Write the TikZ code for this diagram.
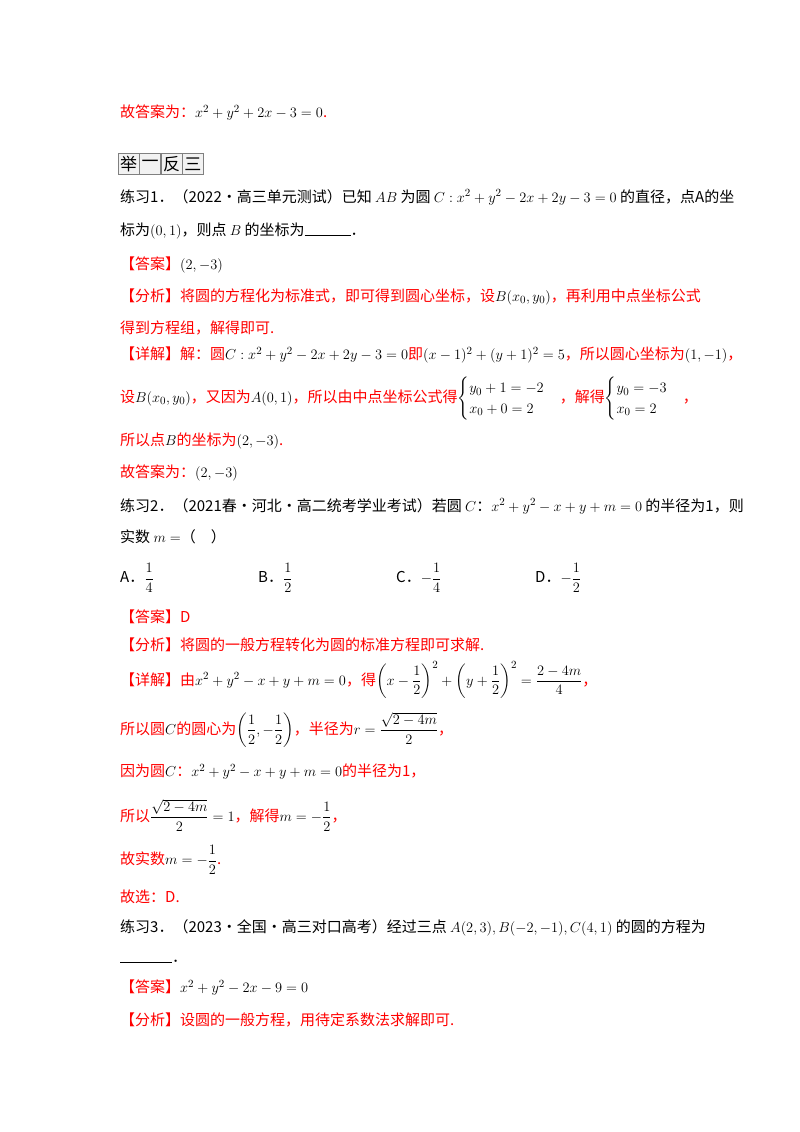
\documentclass[tikz,border=0pt]{standalone}
\usepackage{amsmath}
\usepackage{fontspec}
\setmainfont{Noto Sans CJK SC}
\definecolor{rd}{rgb}{1,0,0}
\begin{document}
\begin{tikzpicture}[x=1pt,y=-1pt,
  t/.style={anchor=west,inner sep=0pt,font=\fontsize{15}{17}\selectfont},
  r/.style={t,text=rd},
  ch/.style={draw=gray,fill=gray!10,minimum width=21pt,minimum height=21pt,inner sep=0pt,font=\fontsize{17}{18}\selectfont,anchor=west}]
\useasboundingbox[fill=white] (0,0) rectangle (800,1132);
\node[r] (l1) at (120,113) {故答案为：\textcolor{black}{$x^2+y^2+2x-3=0$}.};
\node[ch] (b1) at (118,164) {举};
\node[ch] (b2) at (b1.east) {一};
\node[ch] (b3) at (b2.east) {反};
\node[ch] (b4) at (b3.east) {三};
\node[t] (l2) at (120,197) {练习1．（2022·高三单元测试）已知 $AB$ 为圆 $C:x^2+y^2-2x+2y-3=0$ 的直径，点A的坐};
\node[t] (l3) at (120,231) {标为$(0,1)$，则点 $B$ 的坐标为\rule{46pt}{0.5pt}．};
\node[r] (l4) at (120,265) {【答案】\textcolor{black}{$(2,-3)$}};
\node[r] (l5) at (120,297) {【分析】将圆的方程化为标准式，即可得到圆心坐标，设\textcolor{black}{$B(x_0,y_0)$}，再利用中点坐标公式};
\node[r] (l6) at (120,328) {得到方程组，解得即可.};
\node[r] (l7) at (120,355) {【详解】解：圆\textcolor{black}{$C:x^2+y^2-2x+2y-3=0$}即\textcolor{black}{$(x-1)^2+(y+1)^2=5$}，所以圆心坐标为\textcolor{black}{$(1,-1)$}，};
\node[r] (l8) at (120,399) {设\textcolor{black}{$B(x_0,y_0)$}，又因为\textcolor{black}{$A(0,1)$}，所以由中点坐标公式得\textcolor{black}{$\begin{cases}y_0+1=-2\\x_0+0=2\end{cases}$}，解得\textcolor{black}{$\begin{cases}y_0=-3\\x_0=2\end{cases}$}，};
\node[r] (l9) at (120,441) {所以点\textcolor{black}{$B$}的坐标为\textcolor{black}{$(2,-3)$}.};
\node[r] (l10) at (120,473) {故答案为：\textcolor{black}{$(2,-3)$}};
\node[t] (l11) at (120,506) {练习2．（2021春·河北·高二统考学业考试）若圆 $C$：$x^2+y^2-x+y+m=0$ 的半径为1，则};
\node[t] (l12) at (120,537) {实数 $m=$（\quad）};
\node[t] (oa) at (120,578) {A．$\dfrac{1}{4}$};
\node[t] (ob) at (258,578) {B．$\dfrac{1}{2}$};
\node[t] (oc) at (396,578) {C．$-\dfrac{1}{4}$};
\node[t] (od) at (535,578) {D．$-\dfrac{1}{2}$};
\node[r] (l13) at (120,617) {【答案】D};
\node[r] (l14) at (120,645) {【分析】将圆的一般方程转化为圆的标准方程即可求解.};
\node[r] (l15) at (120,680) {【详解】由\textcolor{black}{$x^2+y^2-x+y+m=0$}，得\textcolor{black}{$\left(x-\dfrac{1}{2}\right)^2+\left(y+\dfrac{1}{2}\right)^2=\dfrac{2-4m}{4}$}，};
\node[r] (l16) at (120,730) {所以圆\textcolor{black}{$C$}的圆心为\textcolor{black}{$\left(\dfrac{1}{2},-\dfrac{1}{2}\right)$}，半径为\textcolor{black}{$r=\dfrac{\sqrt{2-4m}}{2}$}，};
\node[r] (l17) at (120,772) {因为圆\textcolor{black}{$C$}：\textcolor{black}{$x^2+y^2-x+y+m=0$}的半径为1，};
\node[r] (l18) at (120,815) {所以\textcolor{black}{$\dfrac{\sqrt{2-4m}}{2}=1$}，解得\textcolor{black}{$m=-\dfrac{1}{2}$}，};
\node[r] (l19) at (120,860) {故实数\textcolor{black}{$m=-\dfrac{1}{2}$}.};
\node[r] (l20) at (120,897) {故选：D.};
\node[t] (l21) at (120,928) {练习3．（2023·全国·高三对口高考）经过三点 $A(2,3),B(-2,-1),C(4,1)$ 的圆的方程为};
\node[t] (l22) at (120,961) {\rule{52pt}{0.5pt}．};
\node[r] (l23) at (120,988) {【答案】\textcolor{black}{$x^2+y^2-2x-9=0$}};
\node[r] (l24) at (120,1020) {【分析】设圆的一般方程，用待定系数法求解即可.};
\end{tikzpicture}
\end{document}
